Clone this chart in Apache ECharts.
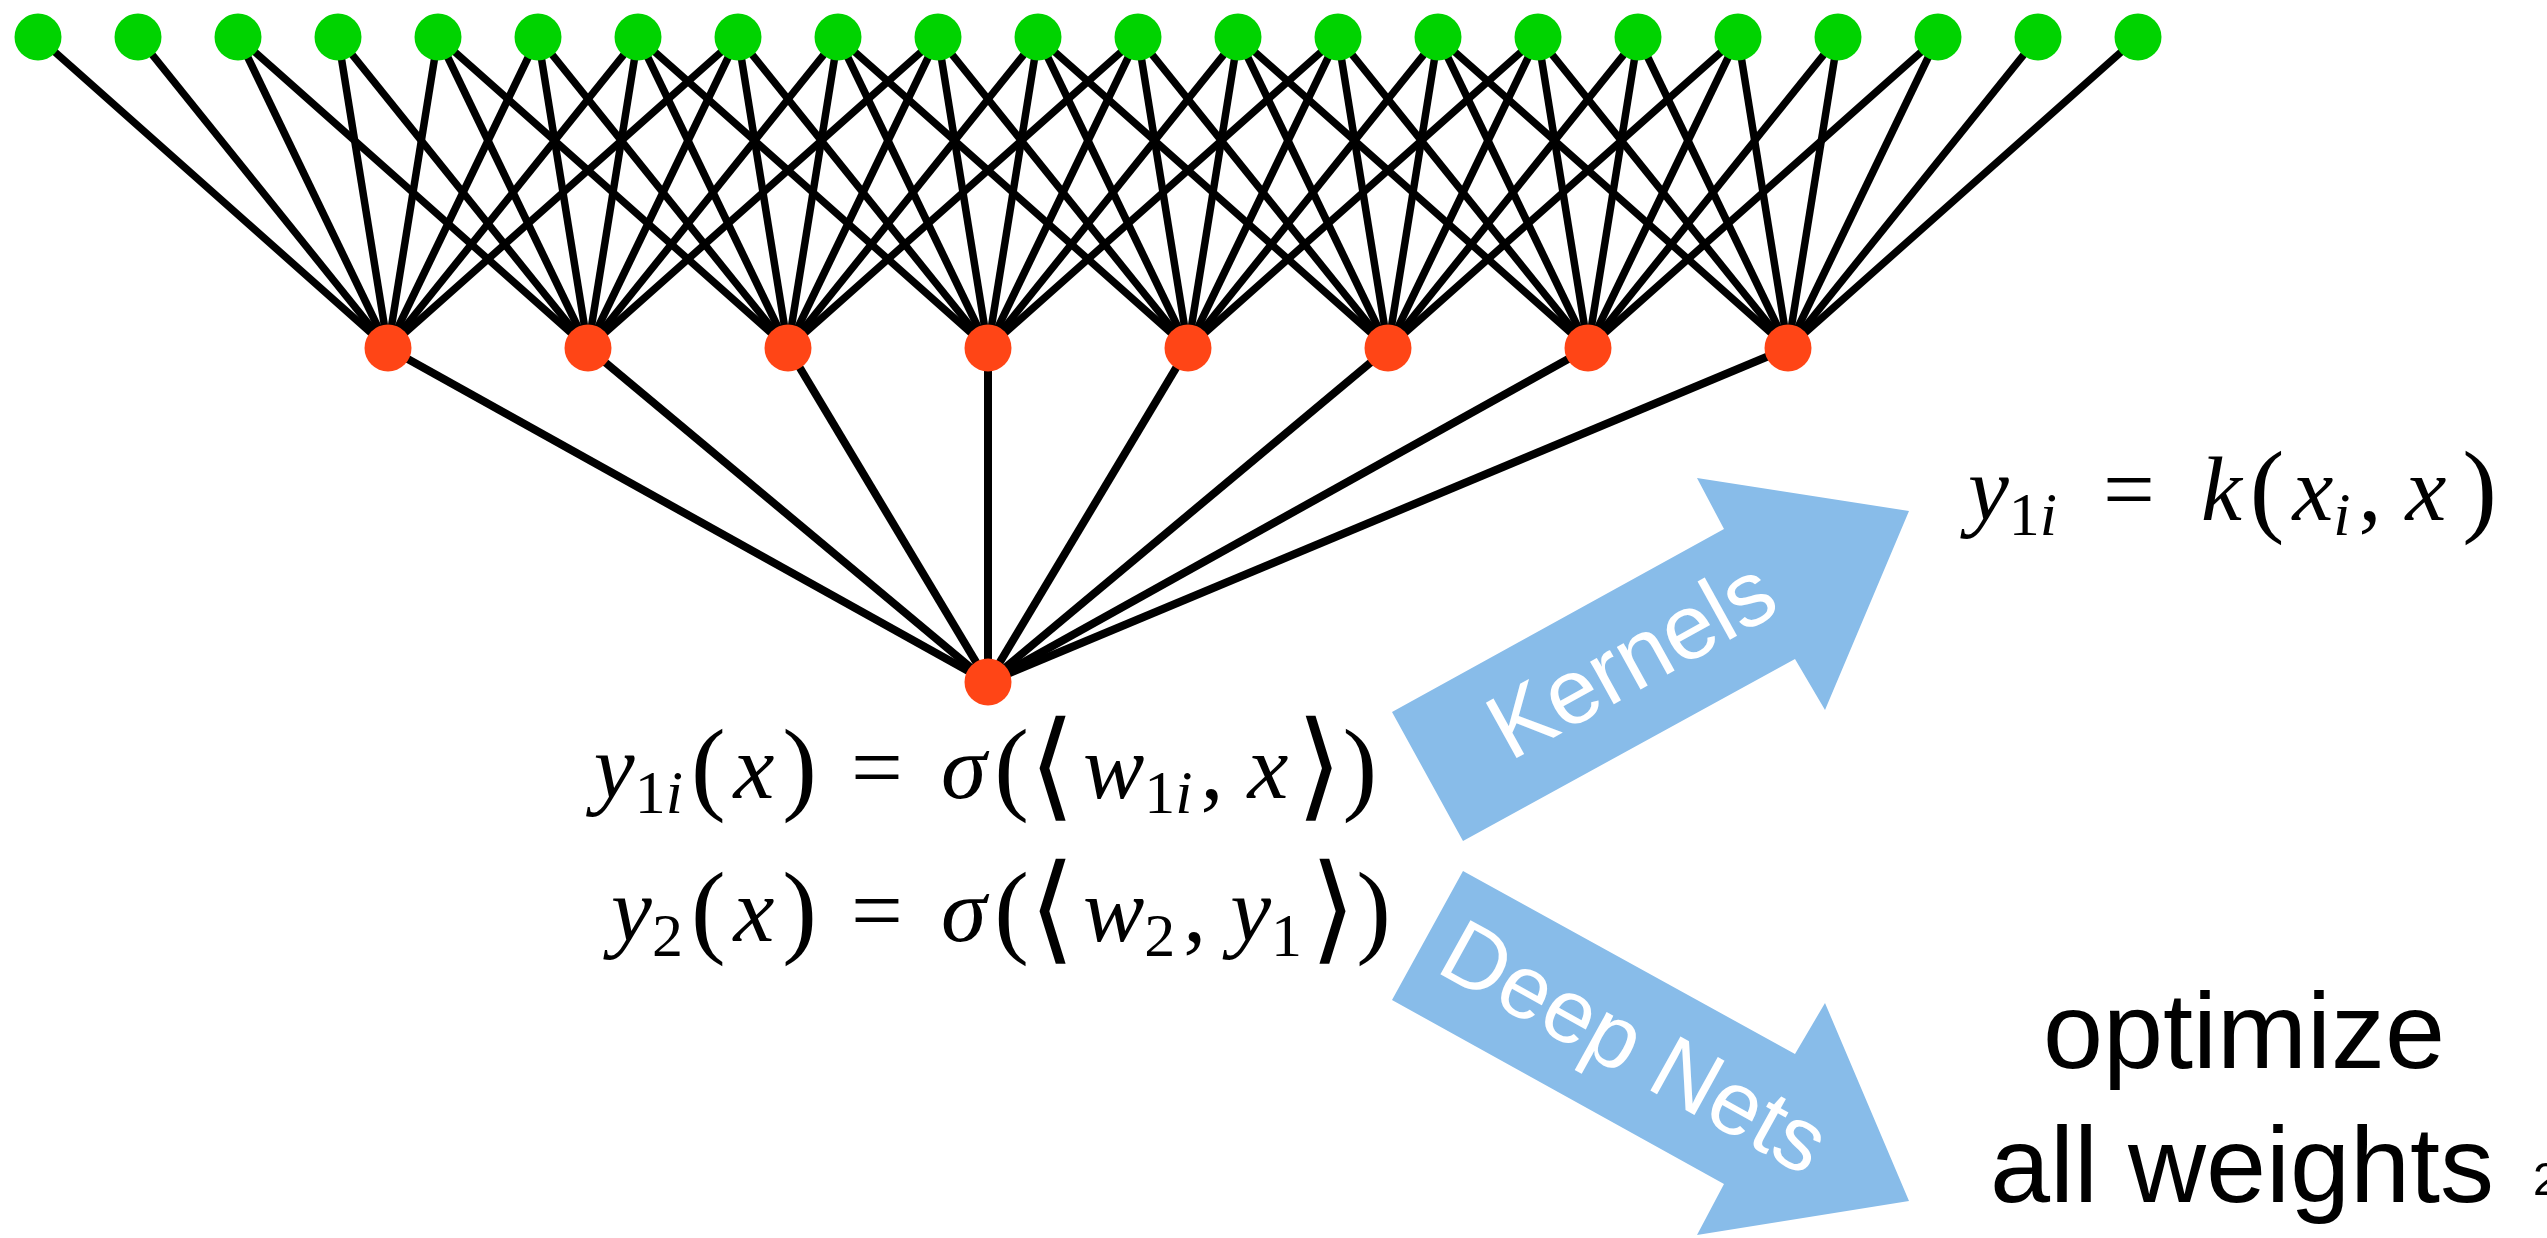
<!DOCTYPE html>
<html><head><meta charset="utf-8">
<script src="https://cdn.jsdelivr.net/npm/echarts@6/dist/echarts.min.js"></script>
<style>html,body{margin:0;padding:0;background:#fff;overflow:hidden}#c{width:2547px;height:1238px}</style>
</head><body><div id="c"></div>
<script>
// ---- network structure (x in input-node index units, y = layer depth) ----
const inputNodes  = [0,1,2,3,4,5,6,7,8,9,10,11,12,13,14,15,16,17,18,19,20,21];
const hiddenNodes = [3.5,5.5,7.5,9.5,11.5,13.5,15.5,17.5];
const outputNodes = [9.5];
const layerDepth  = { input: 37, hidden: 348, output: 682 };
const hiddenFanIn = [
  [0,1,2,3,4,5,6,7],
  [2,3,4,5,6,7,8,9],
  [4,5,6,7,8,9,10,11],
  [6,7,8,9,10,11,12,13],
  [8,9,10,11,12,13,14,15],
  [10,11,12,13,14,15,16,17],
  [12,13,14,15,16,17,18,19],
  [14,15,16,17,18,19,20,21]
];
// ---- block arrows (same data units) ----
const kernelArrow = [[13.54,712],[16.86,529],[16.59,478],[18.71,511],[17.87,710],[17.57,659],[14.25,841]];
const deepArrow   = [[14.25,871],[17.57,1054],[17.87,1003],[18.71,1201],[16.59,1235],[16.86,1184],[13.54,1000]];
// ---- texts ----
const eqLeft  = [
  '{v|y}{sr|1}{sv|i}{g| }{p|(}{g| }{v|x}{g| }{p|)}',
  '{v|y}{sr|2}{g| }{p|(}{g| }{v|x}{g| }{p|)}'
];
const eqRight = [
  '{r|=}{e| }{v|σ}{g| }{p|(}{ab|⟨}{g| }{v|w}{sr|1}{sv|i}{g| }{r|,}{h| }{g| }{v|x}{g| }{ab|⟩}{p|)}',
  '{r|=}{e| }{v|σ}{g| }{p|(}{ab|⟨}{g| }{v|w}{sr|2}{g| }{r|,}{h| }{g| }{v|y}{sr|1}{g| }{ab|⟩}{p|)}'
];
const eqKernel = '{v|y}{sr|1}{sv|i}{e| }{g| }{r|=}{e| }{g| }{v|k}{g| }{p|(}{g| }{v|x}{sv|i}{g| }{r|,}{h| }{g| }{v|x}{g| }{g| }{p|)}';
const arrowLabels = ['Kernels', 'Deep Nets'];
const noteLines = ['optimize', 'all weights'];
const pageLabel = '2';

const SERIF = "'Liberation Serif','DejaVu Serif','DejaVu Sans',serif";
const SANS = "'Liberation Sans',Arial,Helvetica,sans-serif";
const F = 92, S = 62, LH = 130;
const rich = {
  v:  {fontFamily: SERIF, fontStyle: 'italic', fontSize: F, lineHeight: LH, color: '#000'},
  r:  {fontFamily: SERIF, fontSize: F, lineHeight: LH, color: '#000'},
  p:  {fontFamily: SERIF, fontSize: 104, lineHeight: LH, color: '#000'},
  ab: {fontFamily: "'DejaVu Sans','DejaVu Serif',serif", fontWeight: 200, fontSize: 118, lineHeight: LH, color: '#000'},
  g:  {fontFamily: SERIF, fontSize: 32, lineHeight: LH},
  h:  {fontFamily: SERIF, fontSize: 64, lineHeight: LH},
  e:  {fontFamily: SERIF, fontSize: 152, lineHeight: LH},
  sv: {fontFamily: SERIF, fontStyle: 'italic', fontSize: S, lineHeight: LH, padding: [46,0,0,0], color: '#000'},
  sr: {fontFamily: SERIF, fontSize: S, lineHeight: LH, padding: [46,0,0,0], color: '#000'}
};

// annotation anchors (data units)
const annotations = [
  {text: eqLeft[0],  x: 7.79, y: 774, align: 'right', rich: true},
  {text: eqRight[0], x: 8.13, y: 774, align: 'left',  rich: true},
  {text: eqLeft[1],  x: 7.79, y: 917, align: 'right', rich: true},
  {text: eqRight[1], x: 8.13, y: 917, align: 'left',  rich: true},
  {text: eqKernel,   x: 19.30, y: 496, align: 'left', rich: true},
  {text: arrowLabels[0], x: 15.96, y: 664, align: 'center', rot: 29, size: 92, color: '#fff'},
  {text: arrowLabels[1], x: 15.94, y: 1052, align: 'center', rot: -29, size: 90, color: '#fff'},
  {text: noteLines[0], x: 22.06, y: 1038, align: 'center', size: 108, color: '#000'},
  {text: noteLines[1], x: 22.04, y: 1172, align: 'center', size: 108, color: '#000'},
  {text: pageLabel, x: 24.95, y: 1182, align: 'left', size: 46, color: '#000'}
];

// edges built from the structure
const topEdges = [];
hiddenFanIn.forEach((ins, j) => ins.forEach(i => {
  topEdges.push({coords: [[inputNodes[i], layerDepth.input], [hiddenNodes[j], layerDepth.hidden]]});
}));
const bottomEdges = hiddenNodes.map(h => ({coords: [[h, layerDepth.hidden], [outputNodes[0], layerDepth.output]]}));

const chart = echarts.init(document.getElementById('c'), null, {renderer: 'canvas'});
chart.setOption({
  animation: false,
  backgroundColor: '#fff',
  grid: {left: 0, right: 0, top: 0, bottom: 0},
  xAxis: {type: 'value', min: -0.38, max: 25.09, show: false},
  yAxis: {type: 'value', min: 0, max: 1238, inverse: true, show: false},
  series: [
    {type: 'lines', coordinateSystem: 'cartesian2d', z: 1, silent: true,
     lineStyle: {color: '#000', width: 7.5, opacity: 1, curveness: 0}, data: topEdges},
    {type: 'lines', coordinateSystem: 'cartesian2d', z: 1, silent: true,
     lineStyle: {color: '#000', width: 8, opacity: 1, curveness: 0}, data: bottomEdges},
    {type: 'scatter', z: 3, symbol: 'circle', symbolSize: 47, silent: true,
     itemStyle: {color: '#00D300', opacity: 1},
     data: inputNodes.map(x => [x, layerDepth.input])},
    {type: 'scatter', z: 3, symbol: 'circle', symbolSize: 47, silent: true,
     itemStyle: {color: '#FF4516', opacity: 1},
     data: hiddenNodes.map(x => [x, layerDepth.hidden]).concat(outputNodes.map(x => [x, layerDepth.output]))},
    {type: 'custom', z: 4, silent: true,
     data: [0, 1],
     renderItem: function (params, api) {
       const pts = (params.dataIndex === 0 ? kernelArrow : deepArrow).map(p => api.coord(p));
       return {type: 'polygon', shape: {points: pts}, style: {fill: '#88BCE9'}};
     }},
    {type: 'custom', z: 5, silent: true,
     data: annotations.map(a => [a.x, a.y]),
     renderItem: function (params, api) {
       const a = annotations[params.dataIndex];
       const p = api.coord([a.x, a.y]);
       const style = {text: a.text, align: a.align, verticalAlign: 'middle'};
       if (a.rich) {
         style.rich = rich;
       } else {
         style.fill = a.color;
         style.font = a.size + 'px ' + SANS;
       }
       return {type: 'text', x: p[0], y: p[1], rotation: (a.rot || 0) * Math.PI / 180, style: style};
     }}
  ]
});
</script></body></html>
